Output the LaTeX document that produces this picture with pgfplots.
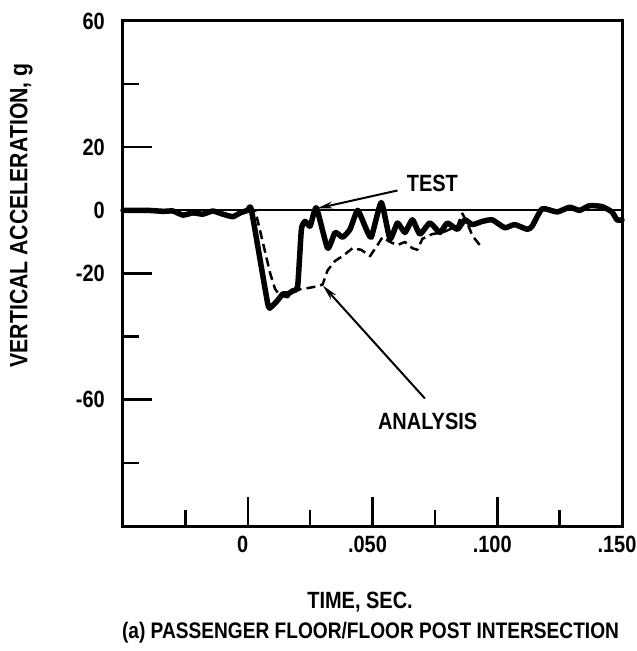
\documentclass[border=0pt]{standalone}
\usepackage{pgfplots}
\pgfplotsset{compat=1.18}
\usepackage{fontspec}
\setmainfont{Liberation Sans}[FakeStretch=0.85]
\usetikzlibrary{arrows.meta}
\newcommand{\lblfont}{\fontsize{23.5bp}{26bp}\selectfont\bfseries}
\begin{document}
\begin{tikzpicture}
\useasboundingbox (-123bp,-125bp) rectangle (514bp,526bp);
\begin{axis}[
  at={(0,0)}, anchor=south west,
  scale only axis, width=499bp, height=505bp,
  xmin=-0.05, xmax=0.15, ymin=-100, ymax=60,
  clip=false,
  axis line style={line width=3bp},
  tick style={line width=2.5bp, black},
  tick align=inside,
  xtick pos=bottom, ytick pos=left,
  major tick length=29bp, minor tick length=16bp,
  xtick={0,0.05,0.1,0.15}, xticklabels={0,.050,.100,.150},
  minor xtick={-0.025,0.025,0.075,0.125},
  ytick={60,20,0,-20,-60}, yticklabels={60,20,0,-20,-60},
  minor ytick={40,-40,-80},
  /pgf/number format/assume math mode=true,
  ticklabel style={font=\lblfont, inner sep=0pt},
  xticklabel style={xshift=-5bp},
  xticklabel shift=10bp, yticklabel shift=18bp,
  xlabel={TIME, SEC.},
  xlabel style={at={(axis description cs:0.475,-0.150)}, anchor=center, font=\lblfont},
  ylabel={VERTICAL ACCELERATION, g},
  ylabel style={at={(axis description cs:-0.204,0.615)}, anchor=center, font=\fontsize{25bp}{27bp}\selectfont\bfseries},
]
% zero line
\addplot[line width=2bp] coordinates {(-0.05,0) (0.15,0)};
% TEST
\addplot[line width=5.5bp, line join=round, line cap=round, smooth, tension=0.3] coordinates {
(-0.05,0) (-0.040,0) (-0.034,-0.3) (-0.030,-0.2) (-0.026,-1.5) (-0.022,-0.8) (-0.018,-1.2) (-0.014,-0.2) (-0.010,-1.2) (-0.006,-2) (-0.003,-0.8) (0.000,0) (0.0015,0)
(0.008,-29.5) (0.0095,-30.5) (0.012,-28.5) (0.014,-26.5) (0.016,-26.5) (0.018,-25.5) (0.020,-24)
(0.0215,-6) (0.023,-3.5) (0.025,-5) (0.0275,0.8) (0.032,-12) (0.035,-7) (0.038,-8.5) (0.041,-6)
(0.044,0) (0.047,-5) (0.0495,-8.5) (0.0535,2.5) (0.057,-9) (0.060,-4) (0.063,-7) (0.066,-3)
(0.069,-7.5) (0.073,-4) (0.077,-7) (0.080,-4) (0.084,-6) (0.087,-3) (0.090,-4.5) (0.094,-3.5)
(0.098,-3) (0.103,-5.5) (0.107,-4.5) (0.112,-6) (0.114,-5) (0.118,0.5) (0.124,-0.5) (0.129,1)
(0.133,0) (0.137,1.5) (0.142,1.2) (0.146,-0.5) (0.148,-3) (0.150,-3)};
% ANALYSIS
\addplot[line width=2.5bp, dash pattern=on 9bp off 5bp, line join=round] coordinates {
(0.000,0) (0.003,0) (0.006,-10) (0.009,-20) (0.011,-25) (0.013,-27) (0.016,-27.5) (0.018,-26)
(0.021,-25) (0.025,-24.5) (0.028,-24) (0.030,-23.5) (0.032,-19) (0.035,-16) (0.038,-14.5)
(0.042,-12) (0.0455,-12.5) (0.049,-14.5) (0.052,-11) (0.054,-8.5) (0.057,-10) (0.060,-11)
(0.063,-10) (0.066,-12) (0.068,-12.5) (0.070,-9) (0.074,-7.5) (0.078,-7) (0.081,-6) (0.084,-5)
(0.086,-1) (0.088,-4) (0.090,-8) (0.093,-11)};
% annotations
\draw[line width=2bp, -{Stealth[length=16bp,width=7bp]}] (axis cs:0.060,6.3) -- (axis cs:0.0277,0.6);
\node[anchor=west, inner sep=0pt, font=\lblfont] at (axis cs:0.0637,8.6) {TEST};
\draw[line width=2bp, -{Stealth[length=16bp,width=7bp]}] (axis cs:0.0710,-59.6) -- (axis cs:0.0301,-23.8);
\node[inner sep=0pt, font=\lblfont] at (axis cs:0.0721,-66.9) {ANALYSIS};
\node[inner sep=0pt, font=\fontsize{22.5bp}{25bp}\selectfont\bfseries] at (axis description cs:0.496,-0.212) {(a) PASSENGER FLOOR/FLOOR POST INTERSECTION};
\end{axis}
\end{tikzpicture}
\end{document}
